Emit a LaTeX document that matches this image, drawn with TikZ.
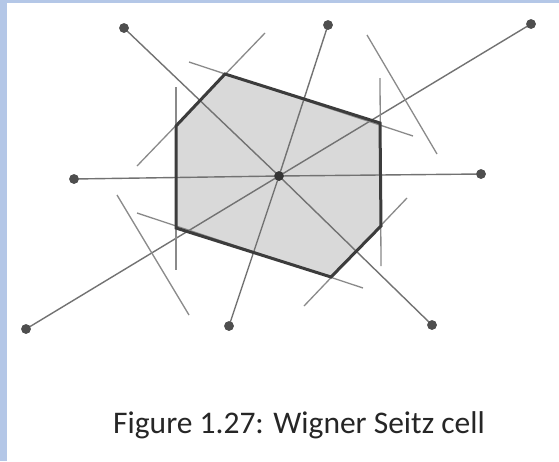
\documentclass[tikz,border=0pt]{standalone}
\usepackage{fontspec}
\setmainfont{Carlito}
\definecolor{slideblue}{HTML}{B4C7E7}
\definecolor{cellfill}{HTML}{D9D9D9}
\definecolor{cellborder}{HTML}{3C3C3C}
\definecolor{spoke}{HTML}{727272}
\definecolor{bisect}{HTML}{8A8A8A}
\definecolor{dotgray}{HTML}{4E4E4E}
\definecolor{captext}{HTML}{262626}
\begin{document}
\begin{tikzpicture}[x=1pt,y=-1pt,
  latticept/.style={circle,fill=dotgray,inner sep=0pt,minimum size=9.5pt},
  centerpt/.style={circle,fill=black!80,inner sep=0pt,minimum size=9.5pt},
  spokeline/.style={draw=spoke,line width=1.4pt},
  bisectline/.style={draw=bisect,line width=1.3pt},
  cellline/.style={draw=cellborder,line width=3pt,line join=miter},
  cellarea/.style={fill=cellfill},
  captionstyle/.style={text=captext,font=\fontsize{31.5}{38}\selectfont,inner sep=0pt}]
% background and slide border
\fill[white] (0,0) rectangle (559,461);
\fill[slideblue] (0,0) rectangle (559,3);
\fill[slideblue] (0,0) rectangle (7,461);
\useasboundingbox (0,0) rectangle (559,461);

% hexagon vertices
\coordinate (A) at (225,74);
\coordinate (B) at (380,123);
\coordinate (C) at (381,226);
\coordinate (D) at (331,277);
\coordinate (E) at (176,228);
\coordinate (F) at (176,126);

% cell fill
\path[cellarea] (A) -- (B) -- (C) -- (D) -- (E) -- (F) -- cycle;

% lattice points
\node[centerpt] (O) at (279,176) {};
\node[latticept] (p1) at (124,28) {};
\node[latticept] (p2) at (328,25) {};
\node[latticept] (p3) at (531,24) {};
\node[latticept] (p4) at (74,179) {};
\node[latticept] (p5) at (481,174) {};
\node[latticept] (p6) at (26,329) {};
\node[latticept] (p7) at (229,326) {};
\node[latticept] (p8) at (432,325) {};

% spokes from centre to neighbours
\foreach \p in {p1,p2,p3,p4,p5,p6,p7,p8}
  \draw[spokeline] (O.center) -- (\p.center);

% perpendicular bisectors
\coordinate (b1s) at (176,87);  \coordinate (b1e) at (176,270);
\coordinate (b2s) at (380,78);  \coordinate (b2e) at (381,266);
\coordinate (b3s) at (137,166); \coordinate (b3e) at (265,33);
\coordinate (b4s) at (304,306); \coordinate (b4e) at (407,198);
\coordinate (b5s) at (189,62);  \coordinate (b5e) at (413,136);
\coordinate (b6s) at (137,213); \coordinate (b6e) at (363,288);
\coordinate (b7s) at (367,35);  \coordinate (b7e) at (437,154);
\coordinate (b8s) at (117,195); \coordinate (b8e) at (189,315);
\foreach \i in {1,...,8}
  \draw[bisectline] (b\i s) -- (b\i e);

% cell border
\draw[cellline] (A) -- (B) -- (C) -- (D) -- (E) -- (F) -- cycle;

% redraw dots on top
\node[centerpt] at (O) {};
\foreach \p in {p1,p2,p3,p4,p5,p6,p7,p8}
  \node[latticept] at (\p) {};

% caption
\node[captionstyle,anchor=base] (cap) at (299,433) {Figure 1.27: Wigner Seitz cell};
\end{tikzpicture}
\end{document}
